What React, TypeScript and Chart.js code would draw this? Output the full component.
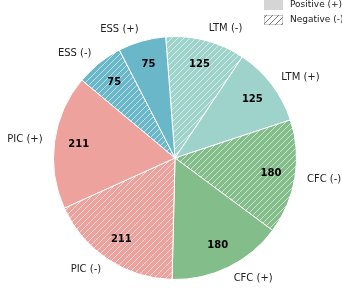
import React, { useEffect, useRef } from "react";
import { Chart, registerables } from "chart.js";

Chart.register(...registerables);

const labels = ["LTM (-)", "LTM (+)", "CFC (-)", "CFC (+)", "PIC (-)", "PIC (+)", "ESS (-)", "ESS (+)"];
const values = [125, 125, 180, 180, 211, 211, 75, 75];
const baseColors = ["#9ed3cb", "#9ed3cb", "#82bd8a", "#82bd8a", "#eda29d", "#eda29d", "#6bb7ca", "#6bb7ca"];
const negative = [true, false, true, false, true, false, true, false];
const legendLabels = ["Positive (+)", "Negative (-)"];

function makeHatch(fill: string, line: string, lw: number) {
  const c = document.createElement("canvas");
  const s = 6;
  c.width = s;
  c.height = s;
  const g = c.getContext("2d")!;
  g.fillStyle = fill;
  g.fillRect(0, 0, s, s);
  g.strokeStyle = line;
  g.lineWidth = lw;
  g.beginPath();
  g.moveTo(0, s);
  g.lineTo(s, 0);
  g.moveTo(-1, 1);
  g.lineTo(1, -1);
  g.moveTo(s - 1, s + 1);
  g.lineTo(s + 1, s - 1);
  g.stroke();
  return g.createPattern(c, "repeat")!;
}

export default function App() {
  const ref = useRef<HTMLCanvasElement>(null);
  useEffect(() => {
    document.body.style.margin = "0";
    const bg = baseColors.map((c, i) => (negative[i] ? makeHatch(c, "rgba(255,255,255,0.6)", 1) : c));
    const legendHatch = makeHatch("#ffffff", "#777777", 1);

    const labelPlugin = {
      id: "pieLabels",
      afterDatasetsDraw(chart: any) {
        const ctx = chart.ctx;
        const meta = chart.getDatasetMeta(0);
        ctx.save();
        meta.data.forEach((arc: any, i: number) => {
          const p = arc.getProps(["x", "y", "startAngle", "endAngle", "outerRadius"], true);
          const mid = (p.startAngle + p.endAngle) / 2;
          const cx = Math.cos(mid);
          const cy = Math.sin(mid);
          ctx.fillStyle = "#000";
          ctx.font = "bold 10px 'DejaVu Sans'";
          ctx.textAlign = "center";
          ctx.textBaseline = "middle";
          ctx.fillText(String(values[i]), p.x + cx * p.outerRadius * 0.8, p.y + cy * p.outerRadius * 0.8);
          ctx.font = "10px 'DejaVu Sans'";
          ctx.fillStyle = "#222";
          ctx.textAlign = cx >= 0 ? "left" : "right";
          ctx.fillText(labels[i], p.x + cx * p.outerRadius * 1.1, p.y + cy * p.outerRadius * 1.1);
        });
        ctx.restore();
      },
      afterDraw(chart: any) {
        const ctx = chart.ctx;
        ctx.save();
        const bx = 264;
        const bw = 19;
        const bh = 10;
        const rows = [0, 15];
        ctx.fillStyle = "#d5d5d5";
        ctx.fillRect(bx, rows[0], bw, bh);
        ctx.fillStyle = legendHatch;
        ctx.fillRect(bx, rows[1], bw, bh);
        ctx.strokeStyle = "#999";
        ctx.lineWidth = 0.5;
        ctx.strokeRect(bx + 0.25, rows[1] + 0.25, bw - 0.5, bh - 0.5);
        ctx.fillStyle = "#222";
        ctx.font = "9px 'DejaVu Sans'";
        ctx.textAlign = "left";
        ctx.textBaseline = "middle";
        legendLabels.forEach((t, i) => ctx.fillText(t, 290, rows[i] + bh / 2));
        ctx.restore();
      },
    };

    const chart = new Chart(ref.current!, {
      type: "pie",
      data: {
        labels,
        datasets: [
          {
            data: values,
            backgroundColor: bg as any,
            borderColor: "#ffffff",
            borderWidth: 1,
          },
        ],
      },
      options: {
        animation: false,
        responsive: false,
        rotation: -4.4,
        layout: { padding: { left: 53, right: 45, top: 36, bottom: 11 } },
        plugins: { legend: { display: false }, tooltip: { enabled: false } },
      },
      plugins: [labelPlugin],
    });
    return () => chart.destroy();
  }, []);
  return (
    <div style={{ position: "fixed", left: 0, top: 0, width: 342, height: 291, background: "#fff" }}>
      <canvas ref={ref} width={342} height={291} style={{ width: 342, height: 291 }} />
    </div>
  );
}
